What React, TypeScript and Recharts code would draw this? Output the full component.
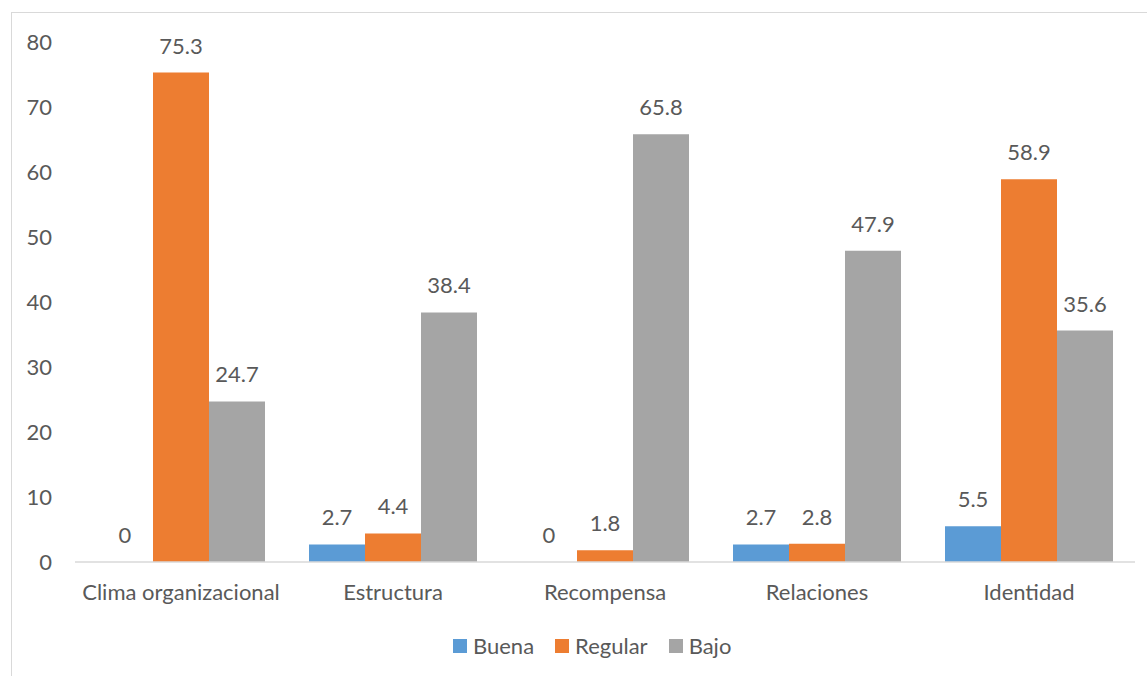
import React from 'react';
import { BarChart, Bar, XAxis, YAxis, Legend, LabelList } from 'recharts';

const categories = ['Clima organizacional', 'Estructura', 'Recompensa', 'Relaciones', 'Identidad'];
const buena = [0, 2.7, 0, 2.7, 5.5];
const regular = [75.3, 4.4, 1.8, 2.8, 58.9];
const bajo = [24.7, 38.4, 65.8, 47.9, 35.6];
const yTicks = [0, 10, 20, 30, 40, 50, 60, 70, 80];

const series = [
	{ key: 'Buena', color: '#5B9BD5' },
	{ key: 'Regular', color: '#ED7D31' },
	{ key: 'Bajo', color: '#A5A5A5' },
];

const FONT = 'Lato, "Liberation Sans", sans-serif';
const TEXT = '#595959';
const FS = 22;

const data = categories.map((name, i) => ({
	name,
	Buena: buena[i],
	Regular: regular[i],
	Bajo: bajo[i],
}));

const renderLegend = () => (
	<div style={{ display: 'flex', alignItems: 'center', fontFamily: FONT, fontSize: FS, color: TEXT, lineHeight: '24px' }}>
		{series.map(s => (
			<div key={s.key} style={{ display: 'flex', alignItems: 'center', marginRight: 21 }}>
				<span style={{ width: 14, height: 14, background: s.color, display: 'inline-block', marginRight: 6 }} />
				<span>{s.key}</span>
			</div>
		))}
	</div>
);

export default function App() {
	return (
		<div style={{ position: 'absolute', left: 0, top: 0, width: 1147, height: 676, overflow: 'hidden', background: '#fff' }}>
			{/* chart frame, runs off the right and bottom edges */}
			<div
				style={{
					position: 'absolute',
					left: 11,
					top: 12,
					width: 1200,
					height: 720,
					border: '1.5px solid #d9d9d9',
				}}
			/>
			<div style={{ position: 'absolute', left: 0, top: 0 }}>
				<BarChart
					width={1147}
					height={676}
					data={data}
					margin={{ top: 42, right: 12, bottom: 0, left: 0 }}
					barCategoryGap={22}
					barGap={0}
				>
					<XAxis
						dataKey='name'
						axisLine={{ stroke: '#d9d9d9', strokeWidth: 1.5 }}
						tickLine={false}
						tickSize={0}
						tickMargin={22}
						height={90}
						interval={0}
						tick={{ fill: TEXT, fontSize: FS, fontFamily: FONT }}
					/>
					<YAxis
						domain={[0, 80]}
						ticks={yTicks}
						width={75}
						axisLine={false}
						tickLine={false}
						tickSize={0}
						tickMargin={23}
						tick={{ fill: TEXT, fontSize: FS, fontFamily: FONT }}
					/>
					<Legend
						content={renderLegend}
						wrapperStyle={{ position: 'absolute', top: 634, left: 453, width: 'auto', height: 24 }}
					/>
					{series.map(s => (
						<Bar key={s.key} dataKey={s.key} fill={s.color} minPointSize={0.01} isAnimationActive={false}>
							<LabelList
								dataKey={s.key}
								position='top'
								offset={19}
								style={{ fill: TEXT, fontSize: FS, fontFamily: FONT }}
							/>
						</Bar>
					))}
				</BarChart>
			</div>
		</div>
	);
}
